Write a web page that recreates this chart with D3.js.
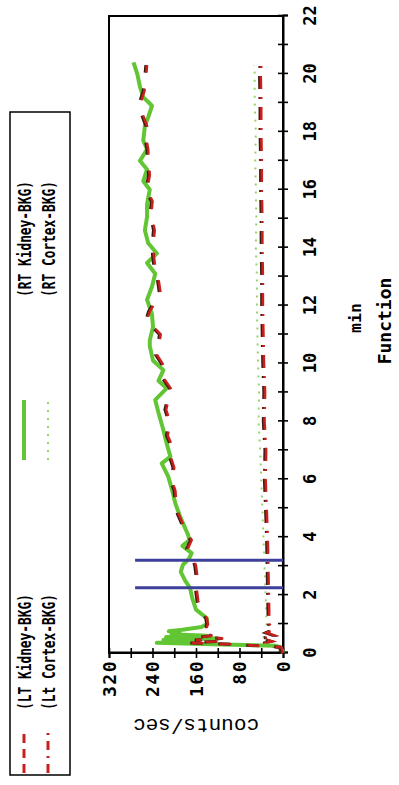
<!DOCTYPE html>
<html><head><meta charset="utf-8">
<script src="https://cdn.jsdelivr.net/npm/d3@7"></script>
<style>body{margin:0;background:#fff}svg{display:block}</style>
</head><body>
<svg id="chart" width="399" height="785"></svg>
<script>
// ---- data ----
const seriesNames = ["(LT Kidney-BKG)", "(RT Kidney-BKG)", "(Lt Cortex-BKG)", "(RT Cortex-BKG)"];
const xTicks = d3.range(0, 23, 1);
const yTicks = [0, 40, 80, 120, 160, 200, 240, 280, 320];
const markerTimes = [2.25, 3.2];
const markerTop = 272;

const rtKidneyT = [0,0.1,0.2,0.25,0.3,0.35,0.4,0.45,0.5,0.55,0.6,0.65,0.7,0.75,0.8,0.9,1.0,1.2,1.5,1.9,2.25,2.5,2.8,3.05,3.25,3.45,3.7,3.9,4.1,4.4,4.7,5.17,5.63,6.09,6.55,6.78,7.24,7.7,8.3,8.74,9.14,9.4,9.77,10.1,10.6,10.8,11.26,11.7,12.2,12.65,13.1,13.47,13.8,14.16,14.6,15.06,15.5,16.0,16.3,16.7,17.0,17.4,17.7,18.2,18.5,18.9,19.2,19.55,20.0,20.4];
const rtKidneyV = [0,2,5,15,130,232,160,220,120,215,140,205,190,210,185,150,140,140,160,167,171,180,188,184,173,168,185,172,175,182,189,198,204,211,223,207,214,220,229,235,214,229,220,239,245,245,239,241,250,241,235,250,232,248,254,250,250,245,257,250,263,250,257,254,248,241,257,263,268,275];

const ltKidneyT = [0,0.2,0.3,0.35,0.4,0.45,0.5,0.55,0.6,0.7,0.8,0.9,1.0,1.2,1.5,1.8,2.1,2.4,2.7,3.0,3.3,3.6,3.9,4.2,4.5,4.8,5.1,5.6,6.0,6.4,6.8,7.2,7.5,8.0,8.4,8.8,9.1,9.5,9.8,10.3,10.6,11.0,11.5,11.8,12.4,12.8,13.3,13.8,14.2,14.6,15.2,15.6,16.0,16.5,16.9,17.4,17.8,18.2,18.6,19.0,19.4,19.9,20.3];
const ltKidneyV = [0,3,90,170,120,160,110,150,130,145,150,140,138,140,153,156,158,160,158,160,165,175,168,178,185,192,196,198,205,200,207,205,212,208,215,210,205,220,215,232,228,225,250,245,225,228,235,238,238,236,242,240,250,245,247,248,252,250,258,262,255,252,250];

const ltCortexT = [0,0.2,0.3,0.4,0.5,0.6,0.7,0.8,1,2,3,4,5,6,7,8,9,10,11,12,13,14,15,16,17,18,19,20,20.3];
const ltCortexV = [0,5,42,20,38,15,30,18,25,26,27,28,30,32,31,34,33,35,36,37,37,38,38,39,39,40,40,41,40];

const rtCortexT = [0,0.2,0.3,0.4,0.5,0.6,0.8,1,2,3,4,5,6,7,8,9,10,11,12,13,14,15,16,17,18,19,20,20.3];
const rtCortexV = [0,4,35,25,40,28,32,30,32,34,36,38,40,42,45,44,46,47,48,48,50,49,50,51,50,52,52,53];

// ---- drawing (chart laid out in its own frame, then rotated -90deg) ----
const W = 785, H = 399;
const svg = d3.select("#chart");
const g = svg.append("g").attr("transform", `translate(0,${W}) rotate(-90)`);

const x = d3.scaleLinear().domain([0, 22]).range([132, 769]);
const y = d3.scaleLinear().domain([0, 320]).range([283, 109]);

const mono = "'DejaVu Sans Mono', 'Liberation Mono', monospace";
const RED = "#c8201e", GREEN = "#62c634", LGREEN = "#9ad26a", BLUE = "#3d3f9a";

// frame
g.append("rect").attr("x", x(0)).attr("y", y(320))
  .attr("width", x(22) - x(0)).attr("height", y(0) - y(320))
  .attr("fill", "none").attr("stroke", "#000").attr("stroke-width", 2);

// x axis
const xAxis = g.append("g").attr("transform", `translate(0,${y(0)})`)
  .call(d3.axisBottom(x).tickValues(xTicks).tickSize(5)
    .tickFormat(d => d % 2 === 0 ? d : ""));
xAxis.select(".domain").attr("stroke-width", 2);
xAxis.selectAll(".tick line").attr("y1", -5).attr("y2", 5).attr("stroke-width", 1.6);
xAxis.selectAll(".tick text").attr("y", 33).attr("dy", 0)
  .style("font-family", mono).style("font-weight", "bold").style("font-size", "17px").attr("fill", "#000");

// y axis
const yAxis = g.append("g").attr("transform", `translate(${x(0)},0)`)
  .call(d3.axisLeft(y).tickValues(yTicks).tickSize(5)
    .tickFormat(d => d % 80 === 0 ? d : ""));
yAxis.select(".domain").attr("stroke-width", 2);
yAxis.selectAll(".tick line").attr("x1", -5).attr("x2", 5).attr("stroke-width", 1.6);
yAxis.selectAll(".tick text").attr("x", -7).attr("dy", "0.36em")
  .style("font-family", mono).style("font-weight", "bold").style("font-size", "18px")
  .style("letter-spacing", "1.5px").attr("fill", "#000");

// axis titles
g.append("text").attr("x", 467).attr("y", 361).attr("text-anchor", "middle")
  .style("font-family", mono).style("font-weight", "bold").style("font-size", "16.5px").text("min");
g.append("text").attr("x", 464).attr("y", 391).attr("text-anchor", "middle")
  .style("font-family", mono).style("font-weight", "bold").style("font-size", "18px").text("Function");
g.append("text").attr("transform", `translate(66,${(y(0)+y(320))/2}) rotate(-90)`)
  .attr("text-anchor", "middle")
  .style("font-family", "'Liberation Mono', 'DejaVu Sans Mono', monospace").style("font-size", "21px")
  .text("counts/sec");

// lines
const line = d3.line().x(d => x(d[0])).y(d => y(d[1]));
const zip = (t, v) => t.map((tt, i) => [tt, v[i]]);

// RT Cortex dotted green
g.append("path").datum(zip(rtCortexT, rtCortexV)).attr("d", line)
  .attr("fill", "none").attr("stroke", LGREEN).attr("stroke-width", 2)
  .attr("stroke-dasharray", "2,6");
// Lt Cortex dash-dot red
g.append("path").datum(zip(ltCortexT, ltCortexV)).attr("d", line)
  .attr("fill", "none").attr("stroke", "#3a1a10").attr("stroke-width", 3)
  .attr("stroke-dasharray", "13,8,2,8").attr("transform", "translate(0,-1.2)");
g.append("path").datum(zip(ltCortexT, ltCortexV)).attr("d", line)
  .attr("fill", "none").attr("stroke", RED).attr("stroke-width", 2.6)
  .attr("stroke-dasharray", "13,8,2,8");
// RT Kidney solid green
g.append("path").datum(zip(rtKidneyT, rtKidneyV)).attr("d", line)
  .attr("fill", "none").attr("stroke", GREEN).attr("stroke-width", 4)
  .attr("stroke-linejoin", "round");
// LT Kidney dashed red
g.append("path").datum(zip(ltKidneyT, ltKidneyV)).attr("d", line)
  .attr("fill", "none").attr("stroke", "#3a1a10").attr("stroke-width", 3)
  .attr("stroke-dasharray", "12,16").attr("transform", "translate(0,-1.2)");
g.append("path").datum(zip(ltKidneyT, ltKidneyV)).attr("d", line)
  .attr("fill", "none").attr("stroke", RED).attr("stroke-width", 2.6)
  .attr("stroke-dasharray", "12,16");

// blue markers
g.selectAll(".marker").data(markerTimes).enter().append("line")
  .attr("x1", d => x(d)).attr("x2", d => x(d))
  .attr("y1", y(0)).attr("y2", y(markerTop))
  .attr("stroke", BLUE).attr("stroke-width", 3);

// legend
g.append("rect").attr("x", 10).attr("y", 10).attr("width", 663).attr("height", 60)
  .attr("fill", "none").attr("stroke", "#000").attr("stroke-width", 1.5);
const legendItems = [
  {name: seriesNames[0], lx: 12, tx: 75, row: 0, color: RED, dash: "9,6", w: 3},
  {name: seriesNames[1], lx: 325, tx: 488, row: 0, color: GREEN, dash: null, w: 4},
  {name: seriesNames[2], lx: 12, tx: 75, row: 1, color: RED, dash: "9,6,2,6", w: 3},
  {name: seriesNames[3], lx: 325, tx: 488, row: 1, color: LGREEN, dash: "2,6", w: 2}
];
legendItems.forEach(it => {
  const ly = it.row === 0 ? 24 : 48;
  g.append("line").attr("x1", it.lx).attr("x2", it.lx + (it.lx < 100 ? 45 : 60))
    .attr("y1", ly).attr("y2", ly).attr("stroke", it.color).attr("stroke-width", it.w)
    .attr("stroke-dasharray", it.dash);
  g.append("text").attr("x", it.tx).attr("y", ly + 7)
    .attr("textLength", 116).attr("lengthAdjust", "spacingAndGlyphs")
    .style("font-family", mono).style("font-weight", "bold").style("font-size", "17px")
    .text(it.name);
});
</script>
</body></html>
